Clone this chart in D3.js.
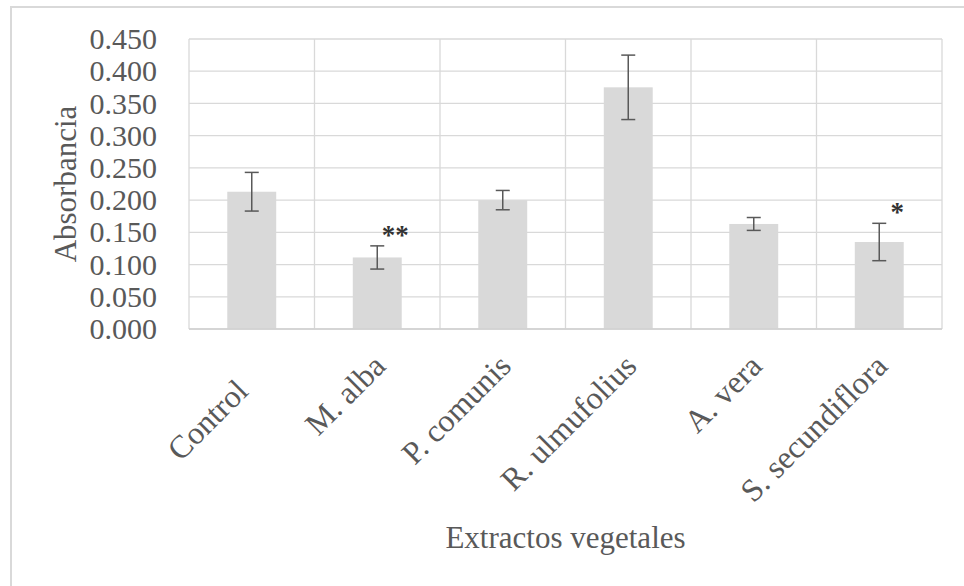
<!DOCTYPE html>
<html>
<head>
<meta charset="utf-8">
<script src="https://cdn.jsdelivr.net/npm/d3@7"></script>
<style>
  html, body { margin: 0; padding: 0; background: #fff; }
  svg { display: block; }
</style>
</head>
<body>
<svg id="chart" width="964" height="586"></svg>
<script>
// Absorbance per plant extract (mean ± error)
const categories = ["Control", "M. alba", "P. comunis", "R. ulmufolius", "A. vera", "S. secundiflora"];
const means      = [0.213, 0.111, 0.200, 0.375, 0.163, 0.135];
const errors     = [0.030, 0.018, 0.015, 0.050, 0.010, 0.029];
const marks      = ["", "**", "", "", "", "*"];
const yTicks     = [0, 0.05, 0.1, 0.15, 0.2, 0.25, 0.3, 0.35, 0.4, 0.45];

const svg = d3.select("#chart");
const W = 964, H = 586;
const plot = { left: 189, top: 39, right: 942, bottom: 329 };
const serif = "'Liberation Serif', 'Times New Roman', serif";
const textColor = "#595959";
const gridColor = "#d9d9d9";

// chart frame (left and top edges inside the window)
svg.append("path")
  .attr("d", `M11,${H + 5} L11,7 L${W + 5},7`)
  .attr("fill", "none")
  .attr("stroke", "#d9d9d9")
  .attr("stroke-width", 2);

const x = d3.scaleBand()
  .domain(categories)
  .range([plot.left, plot.right])
  .paddingInner(0.61)
  .paddingOuter(0.305);

const y = d3.scaleLinear()
  .domain([0, 0.45])
  .range([plot.bottom, plot.top]);

const step = x.step();
const bw = x.bandwidth();

// horizontal gridlines
svg.append("g")
  .selectAll("line")
  .data(yTicks)
  .join("line")
  .attr("x1", plot.left).attr("x2", plot.right)
  .attr("y1", d => y(d)).attr("y2", d => y(d))
  .attr("stroke", gridColor)
  .attr("stroke-width", 1.3);

// vertical gridlines at category boundaries
const bounds = categories.map(c => x(c) - (step - bw) / 2).concat([plot.right]);
svg.append("g")
  .selectAll("line")
  .data(bounds)
  .join("line")
  .attr("x1", d => d).attr("x2", d => d)
  .attr("y1", plot.top).attr("y2", plot.bottom)
  .attr("stroke", gridColor)
  .attr("stroke-width", 1.3);

// y axis tick labels
const yAxis = d3.axisLeft(y)
  .tickValues(yTicks)
  .tickFormat(d3.format(".3f"))
  .tickSize(0)
  .tickPadding(32);
const gy = svg.append("g")
  .attr("transform", `translate(${plot.left},0)`)
  .call(yAxis);
gy.select(".domain").remove();
gy.selectAll("text")
  .attr("font-family", serif)
  .attr("font-size", 30)
  .attr("fill", textColor);

// bars
svg.append("g")
  .selectAll("rect")
  .data(categories)
  .join("rect")
  .attr("x", d => x(d))
  .attr("width", bw)
  .attr("y", (d, i) => y(means[i]))
  .attr("height", (d, i) => y(0) - y(means[i]))
  .attr("fill", "#d9d9d9");

// bottom axis line
svg.append("line")
  .attr("x1", plot.left).attr("x2", plot.right)
  .attr("y1", plot.bottom).attr("y2", plot.bottom)
  .attr("stroke", "#d0d0d0")
  .attr("stroke-width", 1.5);

// error bars
const cap = 7;
const eb = svg.append("g")
  .attr("stroke", "#595959")
  .attr("stroke-width", 1.5)
  .attr("fill", "none");
categories.forEach((c, i) => {
  const cx = x(c) + bw / 2;
  const hi = y(means[i] + errors[i]);
  const lo = y(means[i] - errors[i]);
  eb.append("line").attr("x1", cx).attr("x2", cx).attr("y1", hi).attr("y2", lo);
  eb.append("line").attr("x1", cx - cap).attr("x2", cx + cap).attr("y1", hi).attr("y2", hi);
  eb.append("line").attr("x1", cx - cap).attr("x2", cx + cap).attr("y1", lo).attr("y2", lo);
});

// significance asterisks
svg.append("g")
  .selectAll("text")
  .data(categories)
  .join("text")
  .attr("x", d => x(d) + bw / 2 + 18)
  .attr("y", (d, i) => y(means[i] + errors[i]) - 2)
  .attr("text-anchor", "middle")
  .attr("font-family", serif)
  .attr("font-weight", "bold")
  .attr("font-size", 27)
  .attr("fill", "#333")
  .text((d, i) => marks[i]);

// rotated category labels
svg.append("g")
  .selectAll("text")
  .data(categories)
  .join("text")
  .attr("transform", (d, i) => {
    const cx = x(d) + bw / 2;
    const dx = i === 0 ? -2 : 10;
    const dy = i === 0 ? 393 : 368;
    return `translate(${cx + dx},${dy}) rotate(-45)`;
  })
  .attr("text-anchor", "end")
  .attr("font-family", serif)
  .attr("font-size", 32)
  .attr("fill", textColor)
  .text(d => d);

// axis titles
svg.append("text")
  .attr("transform", "translate(76,184) rotate(-90)")
  .attr("text-anchor", "middle")
  .attr("font-family", serif)
  .attr("font-size", 31)
  .attr("fill", textColor)
  .text("Absorbancia");

svg.append("text")
  .attr("x", (443 + 688) / 2)
  .attr("y", 548)
  .attr("text-anchor", "middle")
  .attr("font-family", serif)
  .attr("font-size", 31)
  .attr("fill", textColor)
  .text("Extractos vegetales");
</script>
</body>
</html>
